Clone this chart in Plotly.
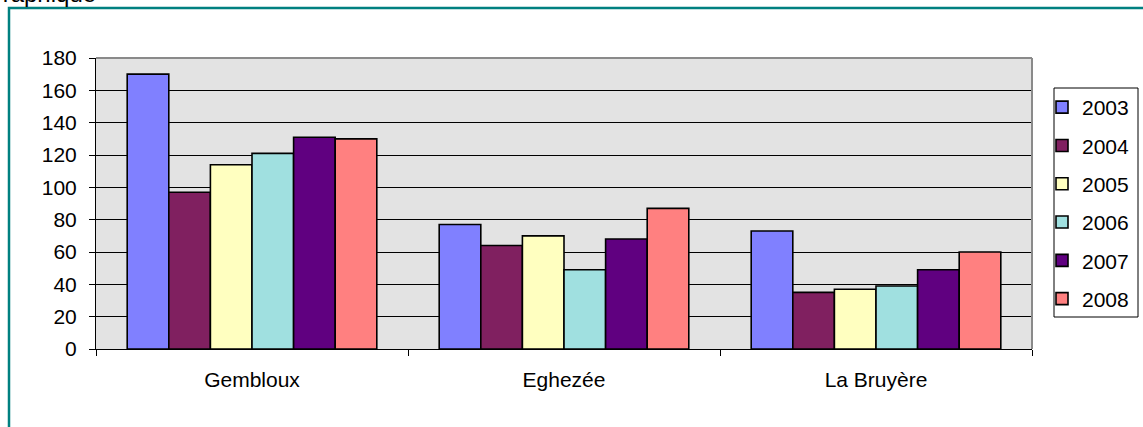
import plotly.graph_objects as go

communes = ["Gembloux", "Eghezée", "La Bruyère"]
years = ["2003", "2004", "2005", "2006", "2007", "2008"]
v2003 = [170, 77, 73]
v2004 = [97, 64, 35]
v2005 = [114, 70, 37]
v2006 = [121, 49, 39]
v2007 = [131, 68, 49]
v2008 = [130, 87, 60]
series = [v2003, v2004, v2005, v2006, v2007, v2008]
colors = ["#8080FF", "#802060", "#FFFFC0", "#A0E0E0", "#600080", "#FF8080"]
y_ticks = list(range(0, 181, 20))

FONT = "Liberation Sans, Arial, sans-serif"
W, H = 1143, 427
ML, MR, MT, MB = 96, 111, 58, 78
PW, PH = W - ML - MR, H - MT - MB


def px(x):
    return (x - ML) / PW


def py(y):
    return (H - MB - y) / PH


fig = go.Figure()
for yr, vals, col in zip(years, series, colors):
    fig.add_trace(go.Bar(
        name=yr, x=communes, y=vals, legendgroup=yr,
        marker=dict(color=col, line=dict(color="black", width=1.6)),
    ))

fig.update_layout(
    width=W, height=H,
    margin=dict(l=ML, r=MR, t=MT, b=MB, pad=0, autoexpand=False),
    paper_bgcolor="white",
    plot_bgcolor="#E3E3E3",
    barmode="group", bargap=0.2, bargroupgap=0,
    font=dict(family=FONT, size=21, color="black"),
    showlegend=True,
    legend=dict(
        x=px(1042), y=py(87), xanchor="left", yanchor="top",
        bgcolor="rgba(0,0,0,0)", borderwidth=0,
        font=dict(family=FONT, size=21, color="black"),
        tracegroupgap=8, itemwidth=30,
    ),
    xaxis=dict(
        showline=True, linecolor="black", linewidth=1,
        ticks="outside", ticklen=6, tickcolor="black", tickson="boundaries",
        ticklabelstandoff=12, showgrid=False,
        tickfont=dict(family=FONT, size=21, color="black"),
    ),
    yaxis=dict(
        range=[0, 180], tickvals=y_ticks, showline=True, linecolor="black", linewidth=1,
        ticks="outside", ticklen=6, tickcolor="black",
        showgrid=True, gridcolor="black", gridwidth=1, zeroline=False,
        ticklabelstandoff=8,
        tickfont=dict(family=FONT, size=21, color="black"),
    ),
    shapes=[
        dict(type="line", xref="paper", yref="paper", x0=0, x1=1, y0=1, y1=1,
             line=dict(color="#8A8A8A", width=2), layer="above"),
        dict(type="line", xref="paper", yref="paper", x0=1, x1=1, y0=0, y1=1,
             line=dict(color="#8A8A8A", width=2), layer="above"),
        dict(type="rect", xref="paper", yref="paper",
             x0=px(1054), x1=px(1138), y0=py(88), y1=py(317),
             line=dict(color="black", width=1), fillcolor="white", layer="below"),
        dict(type="rect", xref="paper", yref="paper",
             x0=px(9), x1=px(1160), y0=py(8), y1=py(450),
             line=dict(color="#008080", width=2.5), layer="above"),
    ],
    annotations=[
        dict(text="Graphique", xref="paper", yref="paper", x=px(98), y=py(8.7),
             xanchor="right", yanchor="bottom", showarrow=False,
             font=dict(family=FONT, size=24, color="black")),
    ],
)

fig.write_html("out.html", config={"displayModeBar": False},
               post_script="document.body.style.margin='0';")
